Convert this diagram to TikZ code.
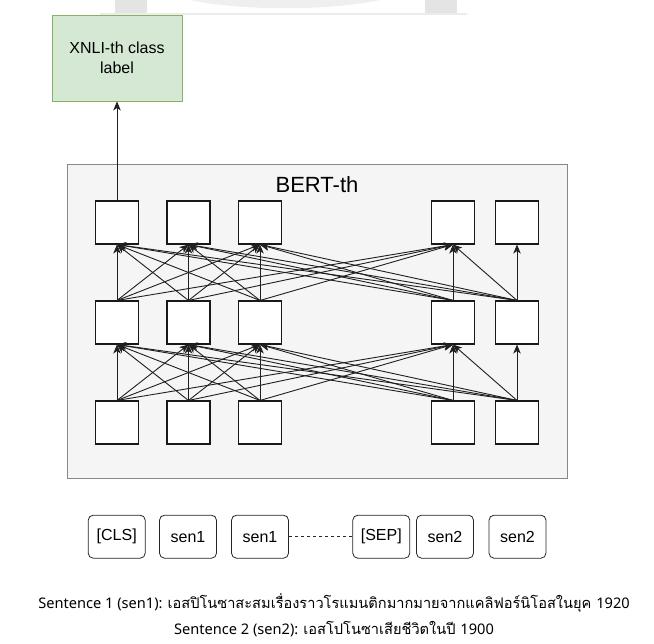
\documentclass[tikz,border=0pt]{standalone}
\usepackage{fontspec}
\setmainfont{Liberation Sans}
\newfontfamily\thaifont[Script=Thai]{Loma}
\newfontfamily\notefont{Noto Sans}
\usetikzlibrary{arrows.meta}
\definecolor{greenfill}{HTML}{D5E8D4}
\definecolor{greenline}{HTML}{82B366}
\definecolor{bertfill}{HTML}{F5F5F5}
\definecolor{bertline}{HTML}{888888}
\definecolor{markgray}{HTML}{E4E4E4}

\begin{document}
\begin{tikzpicture}[x=1pt,y=-1pt,
  unit/.style={draw=black!90,fill=white,line width=1.1pt,minimum width=43pt,minimum height=43pt,inner sep=0pt},
  token/.style={draw=black!85,fill=white,rounded corners=5pt,line width=0.8pt,minimum width=57pt,minimum height=43pt,inner sep=0pt,font=\fontsize{16}{19}\selectfont},
  link/.style={draw=black!88,line width=0.9pt,-{Stealth[length=9pt,width=7.5pt,inset=2.5pt]}},
]
\useasboundingbox (0,0) rectangle (654,644);

% faint marks along the top edge
\fill[markgray] (115,0) rectangle (147,14);
\fill[markgray] (425,0) rectangle (457,14);
\fill[markgray!60] (190,0) .. controls (240,11) and (330,11) .. (380,0) -- cycle;
\draw[markgray!70,line width=1.2pt] (100,14) -- (467,14);

% output class box
\node[draw=greenline,fill=greenfill,line width=0.9pt,minimum width=130pt,minimum height=86pt,inner sep=0pt,
  align=center,font=\fontsize{16}{20}\selectfont] (label) at (117,58) {XNLI-th class\\label};

% encoder block
\node[draw=bertline,fill=bertfill,line width=1pt,minimum width=500pt,minimum height=314pt,inner sep=0pt] (bert) at (317,322) {};
\node[font=\fontsize{22}{26}\selectfont] (berttitle) at (317,185) {BERT-th};

% three layers of units
\foreach \i/\x in {1/117,2/188.5,3/260,4/453,5/517}{
  \node[unit] (t\i) at (\x,222.5) {};
  \node[unit] (m\i) at (\x,322.5) {};
  \node[unit] (b\i) at (\x,422.5) {};
}

% connections between layers
\foreach \t in {1,2,3,4}{
  \foreach \s in {1,...,5}{
    \draw[link] (b\s.north) -- (m\t.south);
    \draw[link] (m\s.north) -- (t\t.south);
  }
}
\draw[link] (b5.north) -- (m5.south);
\draw[link] (m5.north) -- (t5.south);

\draw[link] (t1.north) -- (label.south);

% input tokens
\node[token] (cls) at (116.7,536.7) {[CLS]};
\node[token] (sa) at (188,536.7) {sen1};
\node[token] (sb) at (260,536.7) {sen1};
\node[token] (sep) at (381.3,536.7) {[SEP]};
\node[token] (sc) at (445,536.7) {sen2};
\node[token] (sd) at (517.5,536.7) {sen2};
\draw[black!85,line width=0.8pt,dash pattern=on 3pt off 3pt] (sb.east) -- (sep.west);

% example sentences
\node[anchor=base,inner sep=0pt,font=\fontsize{14.6}{17}\selectfont] (line1) at (334,608)
  {\notefont Sentence 1 (sen1): \thaifont เอสปิโนซาสะสมเรื่องราวโรแมนติกมากมายจากแคลิฟอร์นิโอสในยุค \notefont 1920};
\node[anchor=base,inner sep=0pt,font=\fontsize{14.6}{17}\selectfont] (line2) at (334,634)
  {\notefont Sentence 2 (sen2): \thaifont เอสโปโนซาเสียชีวิตในปี \notefont 1900};
\end{tikzpicture}
\end{document}
